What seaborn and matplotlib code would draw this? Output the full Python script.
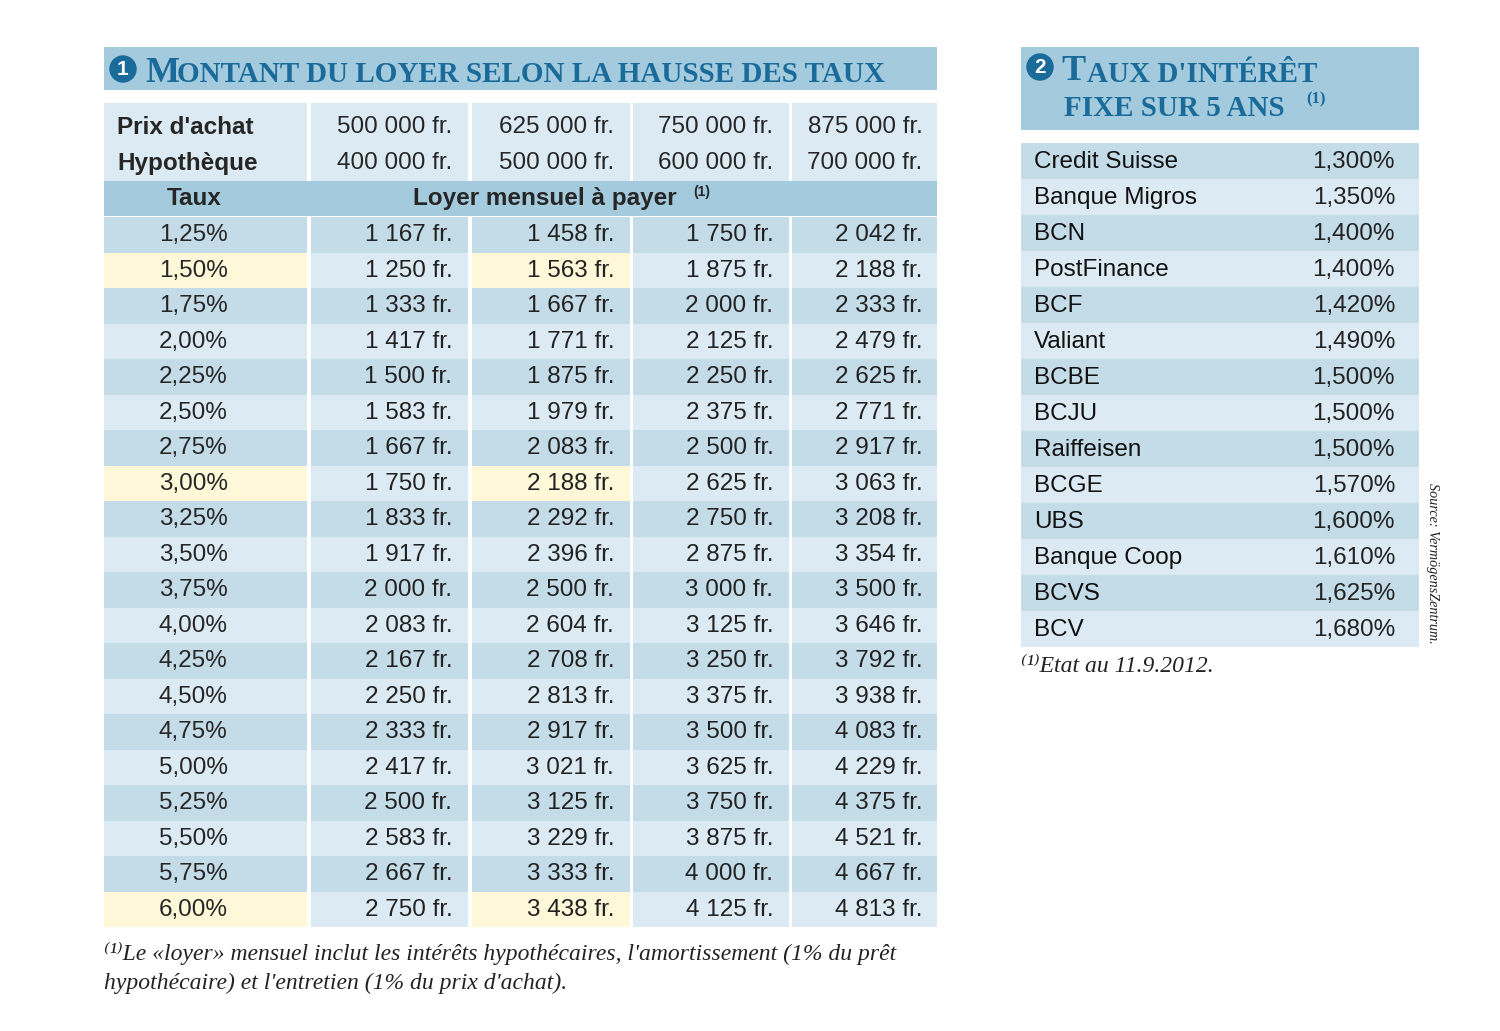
import numpy as np
import matplotlib
matplotlib.use('Agg')
import matplotlib.pyplot as plt
from matplotlib.colors import ListedColormap
from matplotlib.patches import Rectangle, Circle
import seaborn as sns

sns.set_style('white')
plt.rcParams['font.family'] = ['Liberation Sans', 'DejaVu Sans']

# data
rates = ['1,25%', '1,50%', '1,75%', '2,00%', '2,25%', '2,50%', '2,75%', '3,00%', '3,25%', '3,50%',
         '3,75%', '4,00%', '4,25%', '4,50%', '4,75%', '5,00%', '5,25%', '5,50%', '5,75%', '6,00%']
prix_achat = ['500 000 fr.', '625 000 fr.', '750 000 fr.', '875 000 fr.']
hypotheque = ['400 000 fr.', '500 000 fr.', '600 000 fr.', '700 000 fr.']
loyer_500 = [1167, 1250, 1333, 1417, 1500, 1583, 1667, 1750, 1833, 1917, 2000, 2083, 2167, 2250, 2333, 2417, 2500, 2583, 2667, 2750]
loyer_625 = [1458, 1563, 1667, 1771, 1875, 1979, 2083, 2188, 2292, 2396, 2500, 2604, 2708, 2813, 2917, 3021, 3125, 3229, 3333, 3438]
loyer_750 = [1750, 1875, 2000, 2125, 2250, 2375, 2500, 2625, 2750, 2875, 3000, 3125, 3250, 3375, 3500, 3625, 3750, 3875, 4000, 4125]
loyer_875 = [2042, 2188, 2333, 2479, 2625, 2771, 2917, 3063, 3208, 3354, 3500, 3646, 3792, 3938, 4083, 4229, 4375, 4521, 4667, 4813]
highlight_rates = ['1,50%', '3,00%', '6,00%']

banques = ['Credit Suisse', 'Banque Migros', 'BCN', 'PostFinance', 'BCF', 'Valiant', 'BCBE', 'BCJU',
           'Raiffeisen', 'BCGE', 'UBS', 'Banque Coop', 'BCVS', 'BCV']
taux_fixe = ['1,300%', '1,350%', '1,400%', '1,400%', '1,420%', '1,490%', '1,500%', '1,500%',
             '1,500%', '1,570%', '1,600%', '1,610%', '1,625%', '1,680%']

DARK = '#c4dce8'
LIGHT = '#dcebf3'
YELLOW = '#fef8d8'
BAND = '#a3cbdd'
TITLE = '#1a6a9a'
cmap = ListedColormap([DARK, LIGHT, YELLOW])

W, H = 1500, 1031
fig = plt.figure(figsize=(15, 10.31), dpi=100)
bg = fig.add_axes([0, 0, 1, 1])
bg.set_xlim(0, W)
bg.set_ylim(H, 0)
bg.axis('off')


def place(x0, y0, x1, y1):
    ax = fig.add_axes([x0 / W, 1 - y1 / H, (x1 - x0) / W, (y1 - y0) / H])
    return ax


def fmt(v):
    return f'{v // 1000} {v % 1000:03d} fr.' if v >= 1000 else f'{v} fr.'


def stripe(n, yellow_rows=()):
    c = np.array([[i % 2] for i in range(n)])
    for r in yellow_rows:
        c[r, 0] = 2
    return c


FS = 17.5
yrows = [rates.index(r) for r in highlight_rates]
serif = ['Liberation Serif', 'DejaVu Serif']

# title bands
bg.add_patch(Rectangle((104, 47), 833, 43, color=BAND, lw=0))
bg.add_patch(Circle((123, 69), 13, color=TITLE))
bg.text(123, 69.5, '1', color='white', fontsize=15, fontweight='bold', ha='center', va='center')
bg.text(145, 73, 'M', color=TITLE, fontsize=26, fontweight='bold', va='center', family=serif)
bg.text(177, 75, 'ONTANT DU LOYER SELON LA HAUSSE DES TAUX', color=TITLE, fontsize=21,
        fontweight='bold', va='center', family=serif)

bg.add_patch(Rectangle((1021, 47), 398, 83, color=BAND, lw=0))
bg.add_patch(Circle((1040, 67), 13, color=TITLE))
bg.text(1040, 67.5, '2', color='white', fontsize=15, fontweight='bold', ha='center', va='center')
bg.text(1061, 72, 'T', color=TITLE, fontsize=26, fontweight='bold', va='center', family=serif)
bg.text(1087, 74, "AUX D'INTÉRÊT", color=TITLE, fontsize=21, fontweight='bold', va='center', family=serif)
bg.text(1064, 108, 'FIXE SUR 5 ANS', color=TITLE, fontsize=21, fontweight='bold', va='center', family=serif)
bg.text(1306, 99, '(1)', color=TITLE, fontsize=12, fontweight='bold', va='center', family=serif)

# left table
cols = [(104, 307), (311, 468), (472, 630), (633, 789), (792, 937)]
loyers = [loyer_500, loyer_625, loyer_750, loyer_875]
for j, (x0, x1) in enumerate(cols):
    hdr = place(x0, 103, x1, 181)
    sns.heatmap(np.array([[1]]), cmap=cmap, vmin=-0.5, vmax=2.5, cbar=False, ax=hdr,
                xticklabels=False, yticklabels=False)
    body = place(x0, 217, x1, 927)
    sns.heatmap(stripe(20, yrows if j in (0, 2) else ()), cmap=cmap, vmin=-0.5, vmax=2.5, cbar=False,
                ax=body, xticklabels=False, yticklabels=False)
    if j == 0:
        hdr.text(0.065, 0.69, "Prix d'achat", fontsize=FS, fontweight='bold', va='center', transform=hdr.transAxes)
        hdr.text(0.065, 0.23, 'Hypothèque', fontsize=FS, fontweight='bold', va='center', transform=hdr.transAxes)
        for i, r in enumerate(rates):
            body.text(0.44, i + 0.52, r, fontsize=FS, ha='center', va='center')
    else:
        xr = 0.9 if j < 4 else 0.9
        hdr.text(xr, 0.69, prix_achat[j - 1], fontsize=FS, ha='right', va='center', transform=hdr.transAxes)
        hdr.text(xr, 0.23, hypotheque[j - 1], fontsize=FS, ha='right', va='center', transform=hdr.transAxes)
        for i, v in enumerate(loyers[j - 1]):
            body.text(xr, i + 0.52, fmt(v), fontsize=FS, ha='right', va='center', color='#222222')

taux_ax = place(104, 181, 937, 216)
sns.heatmap(np.array([[0]]), cmap=ListedColormap([BAND]), cbar=False, ax=taux_ax,
            xticklabels=False, yticklabels=False)
taux_ax.text(0.108, 0.5, 'Taux', fontsize=FS, fontweight='bold', ha='center', va='center', transform=taux_ax.transAxes)
taux_ax.text(0.371, 0.5, 'Loyer mensuel à payer', fontsize=FS, fontweight='bold', va='center',
             transform=taux_ax.transAxes)
taux_ax.text(0.707, 0.68, '(1)', fontsize=10, fontweight='bold', va='center', transform=taux_ax.transAxes)

# right table
rt = place(1021, 143, 1419, 647)
sns.heatmap(stripe(14), cmap=cmap, vmin=-0.5, vmax=2.5, cbar=False, ax=rt,
            xticklabels=False, yticklabels=False)
for i, (b, t) in enumerate(zip(banques, taux_fixe)):
    rt.text(0.033, i + 0.52, b, fontsize=FS, va='center', color='#111111')
    rt.text(0.94, i + 0.52, t, fontsize=FS, ha='right', va='center', color='#222222')

# notes
bg.text(104, 953, '⁽¹⁾Le «loyer» mensuel inclut les intérêts hypothécaires, l\'amortissement (1% du prêt',
        fontsize=17, style='italic', va='center', family=serif, color='#222222')
bg.text(104, 983, "hypothécaire) et l'entretien (1% du prix d'achat).",
        fontsize=17, style='italic', va='center', family=serif, color='#222222')
bg.text(1021, 666, '⁽¹⁾Etat au 11.9.2012.', fontsize=17, style='italic', va='center', family=serif,
        color='#222222')
bg.text(1432, 563, 'Source: VermögensZentrum.', fontsize=10.2, style='italic', rotation=270, ha='center',
        va='center', family=serif, color='#222222')

fig.savefig('out.png', dpi=100, facecolor='white')
